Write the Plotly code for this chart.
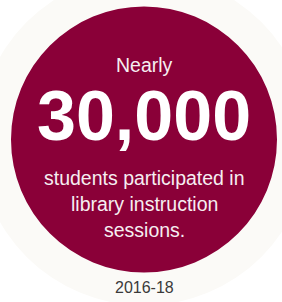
import plotly.graph_objects as go

# Data
prefix = "Nearly"
headline_value = 30000
description_lines = ["students participated in", "library instruction", "sessions."]
period_label = "2016-18"

W, H = 282, 302
CRIMSON = "#8a0038"

fig = go.Figure()

# faint outer halo
cx, cy = 144, 139.5
fig.add_shape(type="circle", xref="x", yref="y",
              x0=cx - 166, x1=cx + 166, y0=cy - 166, y1=cy + 166,
              fillcolor="#fbfaf7", line=dict(width=0), layer="below")
# main circle
r = 133
fig.add_shape(type="circle", xref="x", yref="y",
              x0=cx - r, x1=cx + r, y0=cy - r, y1=cy + r,
              fillcolor=CRIMSON, line=dict(width=0), layer="below")

font = "Liberation Sans, Arial, sans-serif"
fig.add_annotation(x=cx, y=65, xref="x", yref="y", text=prefix, showarrow=False,
                   font=dict(family=font, size=19.5, color="#f6eef1"))
fig.add_annotation(x=cx, y=116, xref="x", yref="y", text=f"<b>{headline_value:,}</b>",
                   showarrow=False, font=dict(family=font, size=70, color="#ffffff"))
for i, line in enumerate(description_lines):
    fig.add_annotation(x=cx, y=178 + i * 26, xref="x", yref="y", text=line, showarrow=False,
                       font=dict(family=font, size=19.5, color="#f6eef1"))
fig.add_annotation(x=cx, y=287, xref="x", yref="y", text=period_label, showarrow=False,
                   font=dict(family=font, size=16, color="#3a3a3a"))

fig.update_xaxes(range=[0, W], visible=False, fixedrange=True)
fig.update_yaxes(range=[H, 0], visible=False, fixedrange=True)
fig.update_layout(width=W, height=H, margin=dict(l=0, r=0, t=0, b=0),
                  paper_bgcolor="white", plot_bgcolor="white", showlegend=False)

fig.write_html("out.html", config={"displayModeBar": False},
               post_script="document.body.style.margin='0';document.body.style.overflow='hidden';")
